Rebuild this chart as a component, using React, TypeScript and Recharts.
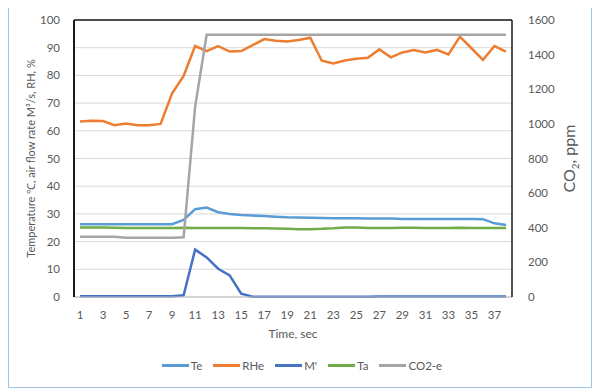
import { CartesianGrid, Label, Line, LineChart, ReferenceLine, XAxis, YAxis } from "recharts";

const TIME = Array.from({ length: 38 }, (_, i) => i + 1);

const TE = [
  26.3, 26.3, 26.3, 26.3, 26.3, 26.3, 26.3, 26.3, 26.3, 27.8,
  31.7, 32.3, 30.6, 30.0, 29.6, 29.4, 29.2, 29.0, 28.8, 28.7,
  28.6, 28.5, 28.4, 28.4, 28.4, 28.3, 28.3, 28.3, 28.2, 28.2,
  28.2, 28.2, 28.2, 28.2, 28.2, 28.1, 26.6, 26.0,
];

const RHE = [
  63.4, 63.6, 63.5, 62.0, 62.6, 62.0, 62.0, 62.5, 73.5, 79.8,
  90.6, 88.8, 90.6, 88.6, 88.8, 90.9, 93.1, 92.5, 92.2, 92.8,
  93.6, 85.3, 84.3, 85.4, 86.0, 86.4, 89.4, 86.5, 88.3, 89.2,
  88.3, 89.2, 87.6, 94.0, 89.8, 85.6, 90.6, 88.6,
];

const M = [
  0.3, 0.3, 0.3, 0.3, 0.3, 0.3, 0.3, 0.3, 0.3, 0.6,
  17.1, 14.3, 10.2, 7.8, 1.2, 0.1, 0.1, 0.1, 0.1, 0.1,
  0.1, 0.1, 0.1, 0.1, 0.1, 0.1, 0.2, 0.2, 0.2, 0.2,
  0.2, 0.2, 0.2, 0.2, 0.2, 0.2, 0.2, 0.2,
];

const TA = [
  25.1, 25.1, 25.1, 25.0, 24.9, 24.9, 24.9, 24.9, 24.9, 25.0,
  24.9, 24.9, 24.9, 24.9, 24.9, 24.8, 24.8, 24.7, 24.6, 24.5,
  24.5, 24.6, 24.8, 25.1, 25.1, 24.9, 24.9, 24.9, 25.0, 25.0,
  24.9, 24.9, 24.9, 25.0, 24.9, 24.9, 24.9, 24.9,
];

const CO2 = [
  348, 348, 348, 348, 342, 342, 342, 342, 342, 345,
  1100, 1515, 1515, 1515, 1515, 1515, 1515, 1515, 1515, 1515,
  1515, 1515, 1515, 1515, 1515, 1515, 1515, 1515, 1515, 1515,
  1515, 1515, 1515, 1515, 1515, 1515, 1515, 1515,
];

const LEFT_TICKS = [0, 10, 20, 30, 40, 50, 60, 70, 80, 90, 100];
const RIGHT_TICKS = [0, 200, 400, 600, 800, 1000, 1200, 1400, 1600];

const SERIES = [
  { key: "Te", color: "#5B9BD5", axis: "left" },
  { key: "RHe", color: "#ED7D31", axis: "left" },
  { key: "M'", color: "#4472C4", axis: "left" },
  { key: "Ta", color: "#70AD47", axis: "left" },
  { key: "CO2-e", color: "#A5A5A5", axis: "right" },
];

const data = TIME.map((t, i) => ({
  t,
  Te: TE[i],
  RHe: RHE[i],
  "M'": M[i],
  Ta: TA[i],
  "CO2-e": CO2[i],
}));

const FONT = "Lato, 'Liberation Sans', sans-serif";
const TEXT = "#595959";
const tick = { fontSize: 11.5, fill: TEXT, fontFamily: FONT };

function Co2Label({ viewBox }: { viewBox?: any }) {
  if (!viewBox) return null;
  const x = viewBox.x + 63;
  const y = viewBox.y + viewBox.height / 2;
  return (
    <text
      x={x}
      y={y}
      transform={`rotate(-90, ${x}, ${y})`}
      textAnchor="middle"
      fontSize={16}
      fill={TEXT}
      fontFamily={FONT}
    >
      <tspan>CO</tspan>
      <tspan dy={4} fontSize={10}>2</tspan>
      <tspan dy={-4}>, ppm</tspan>
    </text>
  );
}

export default function App() {
  return (
    <div
      style={{
        position: "relative",
        width: 582,
        height: 380,
        marginTop: -2,
        border: "1px solid #9DC3E6",
        background: "#fff",
      }}
    >
      <LineChart width={582} height={380} data={data} margin={{ top: 13, right: 29, left: 9, bottom: 60 }}>
        <CartesianGrid yAxisId="left" vertical={false} stroke="#D9D9D9" />
        <XAxis
          dataKey="t"
          interval={1}
          padding={{ left: 6, right: 6 }}
          tickLine={false}
          axisLine={{ stroke: "#BFBFBF" }}
          tick={tick}
          tickMargin={8}
          height={30}
        >
          <Label value="Time, sec" position="insideBottom" offset={-11} fontSize={12} fill={TEXT} fontFamily={FONT} />
        </XAxis>
        <YAxis
          yAxisId="left"
          domain={[0, 100]}
          ticks={LEFT_TICKS}
          interval={0}
          tickLine={false}
          axisLine={{ stroke: "#1a1a1a", strokeWidth: 2 }}
          tick={tick}
          tickMargin={8}
          width={56}
        >
          <Label
            value="Temperature ℃, air flow rate M³/s, RH, %"
            angle={-90}
            position="center"
            dx={-15}
            fontSize={11}
            fill={TEXT}
            fontFamily={FONT}
          />
        </YAxis>
        <YAxis
          yAxisId="right"
          orientation="right"
          domain={[0, 1600]}
          ticks={RIGHT_TICKS}
          interval={0}
          tickLine={false}
          axisLine={{ stroke: "#1a1a1a", strokeWidth: 1.5 }}
          tick={{ ...tick, textAnchor: "start" }}
          tickMargin={10}
          width={50}
        >
          <Label content={<Co2Label />} />
        </YAxis>
        <ReferenceLine yAxisId="left" y={100} stroke="#1a1a1a" strokeWidth={1.5} />
        {SERIES.map((s) => (
          <Line
            key={s.key}
            yAxisId={s.axis}
            dataKey={s.key}
            stroke={s.color}
            strokeWidth={2.5}
            dot={false}
            type="linear"
            isAnimationActive={false}
          />
        ))}
      </LineChart>
      <div
        style={{
          position: "absolute",
          top: 352,
          left: 0,
          width: 582,
          display: "flex",
          justifyContent: "center",
          gap: 11,
          fontFamily: FONT,
          fontSize: 11.5,
          color: TEXT,
          paddingLeft: 2,
        }}
      >
        {SERIES.map((s) => (
          <div key={s.key} style={{ display: "flex", alignItems: "center", gap: 2 }}>
            <div style={{ width: 27, height: 3, background: s.color }} />
            <span>{s.key}</span>
          </div>
        ))}
      </div>
    </div>
  );
}
